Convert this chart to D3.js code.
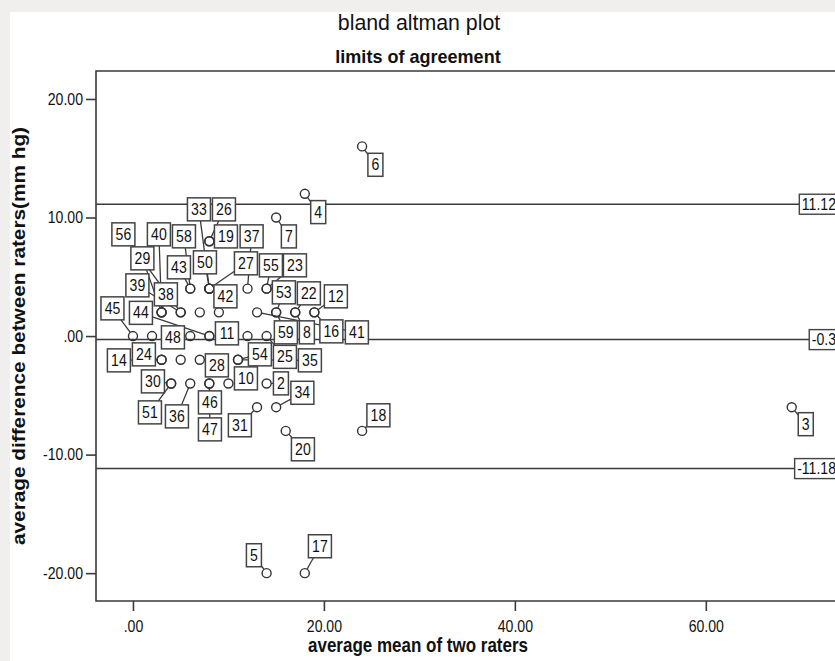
<!DOCTYPE html>
<html><head><meta charset="utf-8">
<script src="https://cdn.jsdelivr.net/npm/d3@7"></script>
<style>body{margin:0;background:#f0efed;} svg{display:block}</style>
</head><body>
<svg id="c" width="835" height="661"></svg>
<script>
// ---------- data ----------
const caseIds = [1,2,3,4,5,6,7,8,9,10,11,12,13,14,15,16,17,18,19,20,21,22,23,24,25,26,27,28,29,30,31,32,33,34,35,36,37,38,39,40,41,42,43,44,45,46,47,48,50,51,53,54,55,56,58,59];
const means   = [12,14,69,18,14,24,15,17,2,10,8,19,5,3,7,19,18,24,8,16,9,17,14,3,14,8,8,7,3,4,13,4,8,15,11,6,12,3,5,3,13,8,6,8,0,8,8,6,8,4,15,11,14,5,6,15];
const diffs   = [0,-4,-6,12,-20,16,10,2,0,-4,0,2,-2,-2,2,2,-20,-8,8,-8,2,2,4,-2,0,8,4,-2,2,-4,-6,0,4,-6,-2,-4,4,2,2,2,2,4,4,0,0,-4,-4,0,4,-4,2,-2,4,2,4,2];
const labelledIds = [2,3,4,5,6,7,8,10,11,12,14,16,17,18,19,20,22,23,24,25,26,27,28,29,30,31,33,34,35,36,37,38,39,40,41,42,43,44,45,46,47,48,50,51,53,54,55,56,58,59];
const refValues = [11.12, -0.3, -11.18];
const refLabels = ["11.12", "-0.3", "-11.18"];
const xTicks = [0, 20, 40, 60];
const yTicks = [-20, -10, 0, 10, 20];
const titleText = "bland altman plot";
const subtitleText = "limits of agreement";
const xTitle = "average mean of two raters";
const yTitle = "average difference between raters(mm hg)";

// ---------- layout (label box centre offsets from point, px) ----------
const labelOffset = {
  6:[13.3,18.4], 4:[13.4,18.3], 7:[12.7,18.9], 3:[14,17], 18:[16.3,-15.6], 20:[17.2,18.4],
  5:[-12.7,-17.9], 17:[15.1,-26.9], 19:[16.6,-4.8], 26:[14.6,-31.8], 33:[-10.4,-79.3],
  27:[36.6,-25.3], 50:[-4.4,-26.3], 42:[16.1,7.7], 37:[4.1,-52.3], 58:[-6.3,-52.3],
  43:[-11.3,-21.3], 56:[-57.3,-78], 39:[-43.3,-27], 40:[-2.7,-78], 29:[-19.2,-54],
  38:[4.3,-18], 44:[-68.4,-23.2], 11:[17.6,-2.7], 45:[-20.5,-27.7], 48:[-17.3,1.3],
  14:[-42.7,0.6], 24:[-17.7,-5.4], 55:[4.3,-23.3], 23:[28.3,-23.3], 53:[7.7,-20],
  59:[9.7,20], 22:[13.6,-19], 8:[11.6,20], 12:[21.5,-16], 16:[17,19], 41:[99.8,20],
  54:[21.9,-5.4], 35:[71.9,0.6], 28:[17.1,5.6], 25:[18.3,20.8], 10:[17.5,-5.1],
  2:[14.3,-0.1], 34:[26.2,-14.4], 31:[-17.2,18.1], 46:[0.6,18.9], 47:[0.6,45.9],
  36:[-13.3,32.9], 51:[-21.2,28.9], 30:[-18.2,-2.1]
};

const SX = 0.88;         // horizontal squeeze of the original picture
const INK = "#3a3a3a";
const FONT = "Liberation Sans, Arial, sans-serif";

const svg = d3.select("#c");
svg.append("rect").attr("x",0).attr("y",0).attr("width",835).attr("height",661).attr("fill","#f0efed");
svg.append("rect").attr("x",10).attr("y",12).attr("width",825).attr("height",649).attr("fill","#ffffff");

const L = 96, T = 71, R = 850, B = 601;
const x = d3.scaleLinear().domain([-3.87, 75.1]).range([L, R]);
const y = d3.scaleLinear().domain([-22.35, 22.36]).range([B, T]);
const fmt = v => v === 0 ? ".00" : d3.format(".2f")(v).replace("\u2212", "-");

function text(g, tx, ty, s, o) {
  o = o || {};
  const rot = o.rotate ? ` rotate(${o.rotate}) scale(1,${o.sx||SX})` : ` scale(${o.sx||SX},1)`;
  return g.append("text")
    .attr("transform", `translate(${tx},${ty})${rot}`)
    .attr("text-anchor", o.anchor || "middle")
    .attr("font-family", FONT)
    .attr("font-size", o.size || 15)
    .attr("font-weight", o.bold ? "bold" : "normal")
    .attr("fill", "#111")
    .text(s);
}

// titles
text(svg, 419, 30, titleText, {size: 22, sx: 0.97});
text(svg, 418, 63, subtitleText, {size: 19, bold: true, sx: 0.95});
text(svg, 418, 652, xTitle, {size: 20, bold: true, sx: 0.85});
text(svg, 25, 336, yTitle, {size: 20.8, bold: true, rotate: -90, sx: 0.84});

// axes
const gy = svg.append("g").attr("transform", `translate(${L},0)`)
  .call(d3.axisLeft(y).tickValues(yTicks).tickFormat(fmt).tickSize(10).tickSizeOuter(0).tickPadding(3));
const gx = svg.append("g").attr("transform", `translate(0,${B})`)
  .call(d3.axisBottom(x).tickValues(xTicks).tickFormat(fmt).tickSize(10).tickSizeOuter(0).tickPadding(10));
[gy, gx].forEach(g => {
  g.select(".domain").remove();
  g.selectAll(".tick line").attr("stroke", INK).attr("stroke-width", 1.6);
  g.selectAll(".tick text").attr("font-family", FONT).attr("font-size", 16).attr("fill", "#111");
});
gy.selectAll(".tick text").attr("x", -13 / SX).attr("transform", `scale(${SX},1)`);
gx.selectAll(".tick text").attr("transform", `scale(${SX},1)`);

// frame
const frame = svg.append("g").attr("stroke", INK).attr("stroke-width", 1.6).attr("fill", "none");
frame.append("path").attr("d", `M${R},${T}H${L}V${B}H${R}`);

// reference lines
const refG = svg.append("g");
refG.selectAll("line").data(refValues).join("line")
  .attr("x1", L).attr("x2", R).attr("y1", d => y(d)).attr("y2", d => y(d))
  .attr("stroke", INK).attr("stroke-width", 1.5);

// points
const pts = caseIds.map((id, i) => ({id, px: x(means[i]), py: y(diffs[i])}));
const labelled = pts.filter(p => labelledIds.includes(p.id)).map(p => {
  const off = labelOffset[p.id];
  const w = String(p.id).length === 1 ? 15 : 23;
  return Object.assign({}, p, {cx: p.px + off[0], cy: p.py + off[1], w, h: 23});
});

// leader lines
const r = 4.5;
const leaders = svg.append("g").attr("stroke", INK).attr("stroke-width", 1.3);
labelled.forEach(p => {
  const dx = p.cx - p.px, dy = p.cy - p.py, len = Math.hypot(dx, dy);
  if (len < 1) return;
  const s = Math.min(dx !== 0 ? (p.w / 2) / Math.abs(dx) : Infinity, dy !== 0 ? (p.h / 2) / Math.abs(dy) : Infinity);
  const ex = p.cx - dx * s, ey = p.cy - dy * s;
  const sxp = p.px + dx / len * r, syp = p.py + dy / len * r;
  if (Math.hypot(ex - sxp, ey - syp) > 2 && s < 1)
    leaders.append("line").attr("x1", sxp).attr("y1", syp).attr("x2", ex).attr("y2", ey);
});

svg.append("g").selectAll("circle").data(pts).join("circle")
  .attr("cx", d => d.px).attr("cy", d => d.py).attr("r", r)
  .attr("fill", "none").attr("stroke", "#333").attr("stroke-width", 1.4);

// label boxes
const lb = svg.append("g");
labelled.forEach(p => {
  lb.append("rect").attr("x", p.cx - p.w / 2).attr("y", p.cy - p.h / 2).attr("width", p.w).attr("height", p.h)
    .attr("fill", "#fff").attr("stroke", "#444").attr("stroke-width", 1.5);
  text(lb, p.cx, p.cy + 5.5, String(p.id), {size: 16});
});

// reference line labels (right end)
const refEnd = 836;
refValues.forEach((v, i) => {
  const t = text(svg, refEnd, y(v) + 5.5, refLabels[i], {anchor: "end", size: 16});
  const w = t.node().getBBox().width * SX;
  svg.insert("rect", () => t.node())
    .attr("x", refEnd - w - 2.5).attr("y", y(v) - 10).attr("width", w + 6).attr("height", 20)
    .attr("fill", "#fff").attr("stroke", "#444").attr("stroke-width", 1.4);
});
</script>
</body></html>
